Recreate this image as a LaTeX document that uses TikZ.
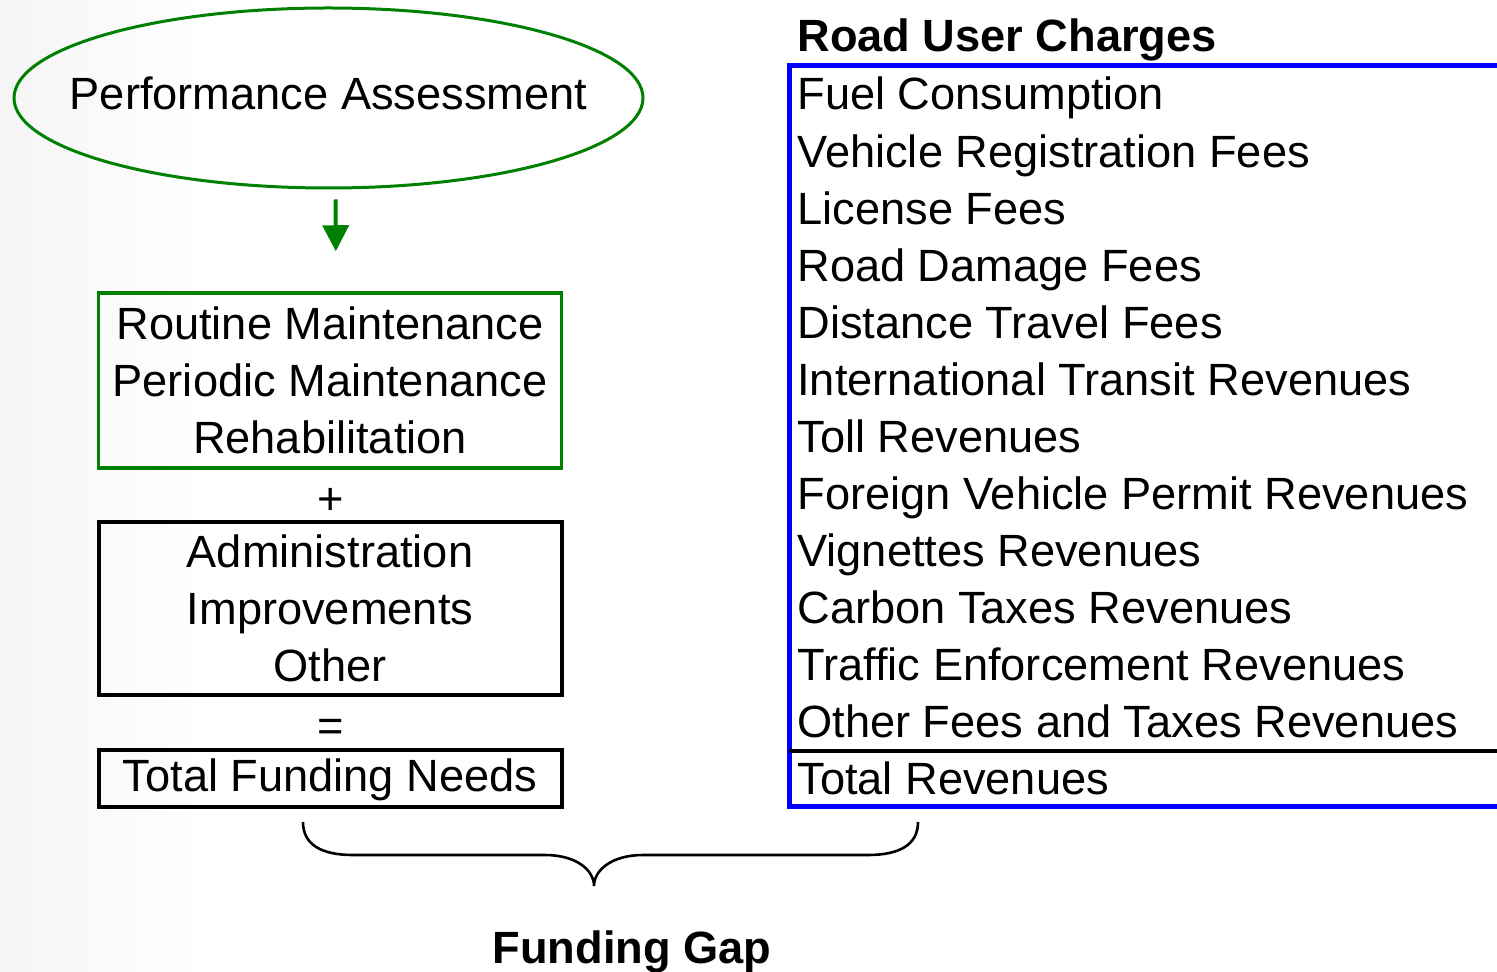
\documentclass[tikz,border=0pt]{standalone}
\usepackage{fontspec}
\setmainfont{Liberation Sans}
\usetikzlibrary{shapes.geometric,arrows.meta}
\definecolor{assessgreen}{RGB}{0,128,0}
\definecolor{frameblue}{RGB}{0,0,255}
\begin{document}
\begin{tikzpicture}[
        x=0.5pt, y=-0.5pt,
        every node/.style={font=\fontsize{22.6}{28.54}\selectfont, inner sep=0pt},
        assessment/.style={ellipse, draw=assessgreen, line width=1.5pt,
            minimum width=314.5pt, minimum height=90pt, text depth=5.3pt},
        needbox/.style={rectangle, draw=black, line width=2pt, align=center,
            minimum width=231.5pt},
        flow/.style={draw=assessgreen, line width=2pt,
            -{Triangle[length=13pt,width=13pt]},
            shorten <=5pt, shorten >=20pt},
        revenue/.style={anchor=base west},
        heading/.style={font=\fontsize{22.6}{28.54}\selectfont\bfseries},
        revframe/.style={draw=frameblue, line width=2.5pt},
        brace line/.style={line width=1.3pt}
        ]
        \useasboundingbox (0,0) rectangle (1497,972);
        % faint backdrop on the left
        \shade[left color=black!4, right color=white] (0,0) rectangle (200,972);
        % assessment and needs
        \node[assessment] (assess) at (328.5,98) {\makebox[0pt]{Performance Assessment}};
        \node[needbox, draw=assessgreen, line width=1.75pt, minimum height=87.5pt]
            (maint) at (330,380.5) {Routine Maintenance\\Periodic Maintenance\\Rehabilitation};
        \node (plus) at (331,501) {+};
        \node[needbox, minimum height=86.5pt] (admin) at (330,608.5)
            {Administration\\Improvements\\Other};
        \node (equals) at (331,730) {=};
        \node[needbox, minimum height=28.5pt, text depth=3pt] (needs) at (330,778.5)
            {Total Funding Needs};
        \draw[flow] ([xshift=3.5pt]assess.south) -- ([xshift=3pt]maint.north);
        % revenues
        \node[heading, anchor=base west] (charges) at (797,52) {Road User Charges};
        \foreach \txt [count=\k from 0] in {Fuel Consumption, Vehicle Registration Fees,
            License Fees, Road Damage Fees, Distance Travel Fees,
            International Transit Revenues, Toll Revenues,
            Foreign Vehicle Permit Revenues, Vignettes Revenues,
            Carbon Taxes Revenues, Traffic Enforcement Revenues,
            Other Fees and Taxes Revenues, Total Revenues}
            \node[revenue] (rev\k) at (797,110+57.08*\k) {\txt};
        % frame
        \draw[revframe] (1510,66) -| (789,806) -- (1510,806);
        \draw[line width=2pt] (789,750.5) -- (1510,750.5);
        % brace
        \draw[brace line] (303,822) .. controls (303,845) and (322,855) .. (353,855)
            -- (545,855) .. controls (576,855) and (594,870) .. (594,886)
            .. controls (594,870) and (612,855) .. (643,855)
            -- (868,855) .. controls (899,855) and (918,845) .. (918,822);
        \node[heading, anchor=base] (gap) at (632,963) {Funding Gap};
    \end{tikzpicture}
\end{document}
